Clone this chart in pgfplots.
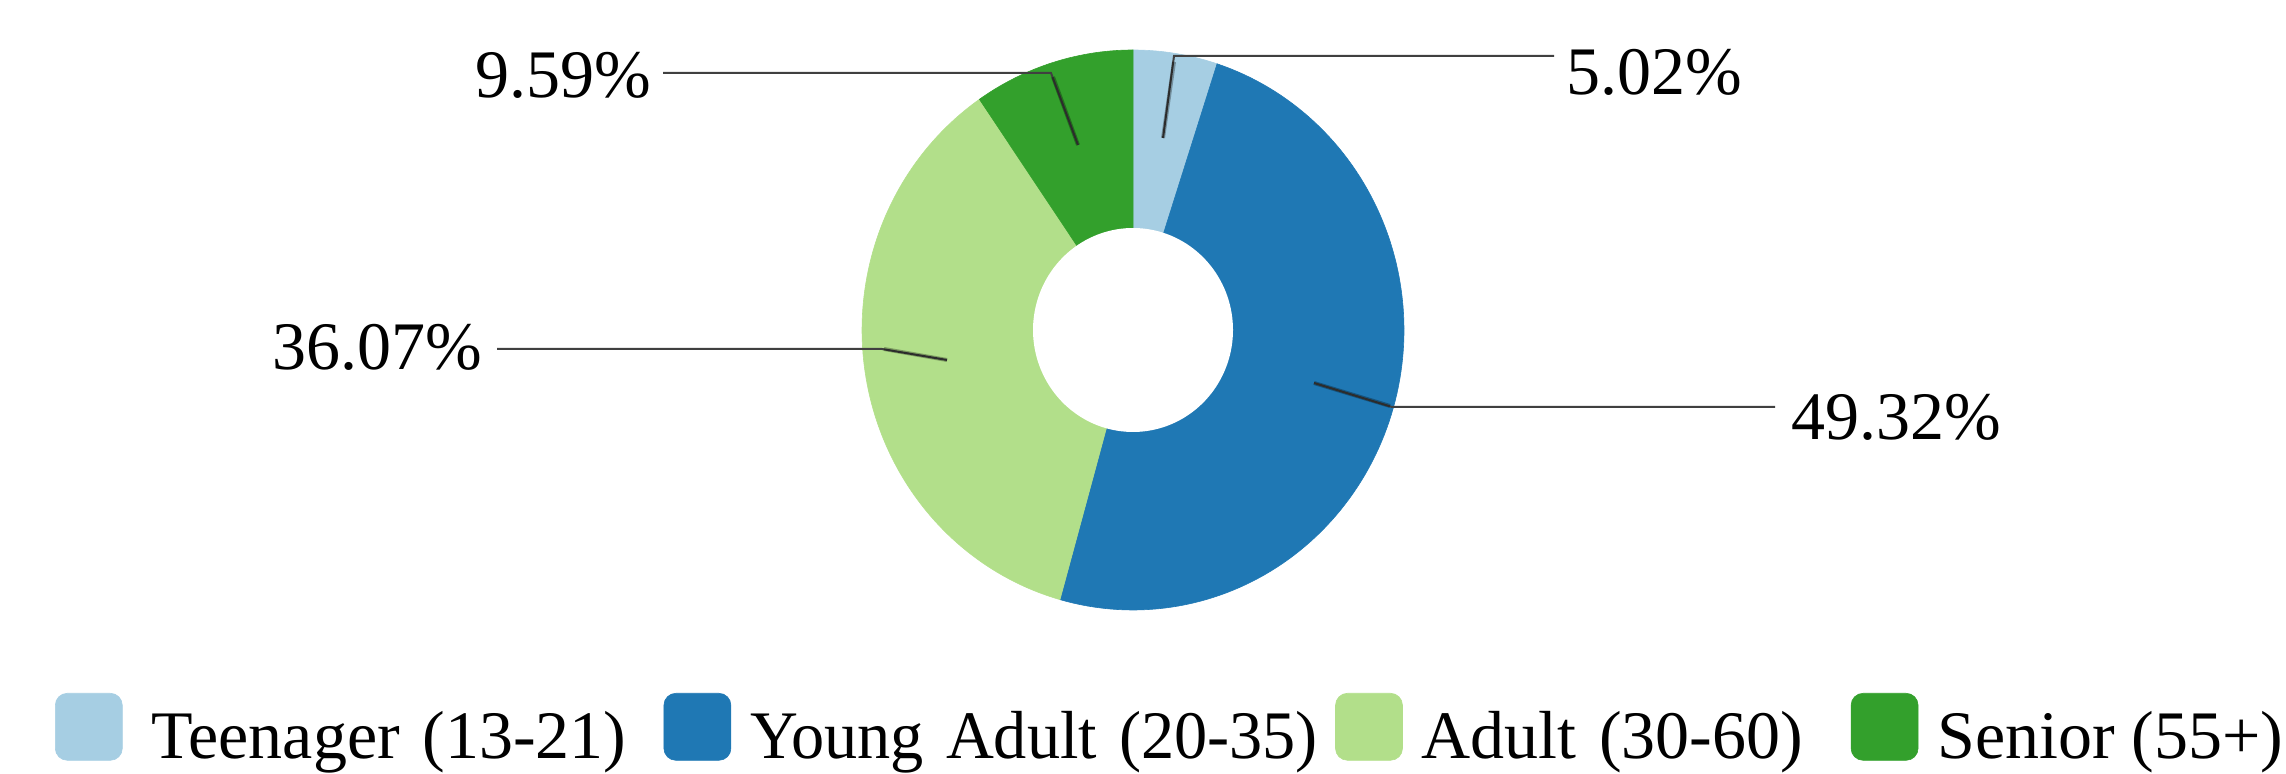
\documentclass[border=0pt]{standalone}
\usepackage{fontspec}
\setmainfont{Liberation Serif}
\usepackage{pgfplots}
\pgfplotsset{compat=1.18}
\definecolor{teen}{HTML}{A6CEE3}
\definecolor{young}{HTML}{1F78B4}
\definecolor{adult}{HTML}{B2DF8A}
\definecolor{senior}{HTML}{33A02C}
% shares (percent)
\def\pA{5.02}
\def\pB{49.32}
\def\pC{36.07}
\def\pD{9.59}
% geometry (1 unit = 1 px of the reference)
\def\cx{1133}
\def\cy{444}
\def\Rx{271}
\def\Ry{280}
\def\rx{100}
\def\ry{102}
\pgfmathsetmacro\aO{90}
\pgfmathsetmacro\aA{90-3.6*\pA}
\pgfmathsetmacro\aB{\aA-3.6*\pB}
\pgfmathsetmacro\aC{\aB-3.6*\pC}
\pgfmathsetmacro\aD{\aC-3.6*\pD}
\begin{document}
\begin{tikzpicture}[font=\fontsize{34}{40}\selectfont]
\begin{axis}[
  width=1143pt, height=387pt, scale only axis,
  xmin=0, xmax=2286, ymin=0, ymax=774,
  enlargelimits=false, hide axis, clip=false,
  legend columns=-1,
  legend cell align=left,
  legend style={draw=none, fill=none, inner sep=0pt, outer sep=0pt,
    at={(axis cs:55,81)}, anchor=north west,
    font=\fontsize{34}{40}\selectfont,
    /tikz/column sep=0pt,
    nodes={inner sep=0pt, outer sep=0pt, anchor=base},
    cells={anchor=base}},
  legend image code/.code={%
    \fill[#1, rounded corners=6pt] (0pt,-1pt) rectangle (33.5pt,32.5pt);
    \path (43pt,0pt);},
]
\addplot[fill=teen, draw=teen, line width=0.3pt, no markers, domain=\aA:\aO, samples=40, variable=\t]
  ({\cx+\Rx*cos(\t)},{\cy+\Ry*sin(\t)}) -- (axis cs:\cx,\cy) -- cycle;
\addlegendentry[text width=261pt, align=left]{\hspace*{5pt}Teenager (13-21)}
\addplot[fill=young, draw=young, line width=0.3pt, no markers, domain=\aB:\aA, samples=120, variable=\t]
  ({\cx+\Rx*cos(\t)},{\cy+\Ry*sin(\t)}) -- (axis cs:\cx,\cy) -- cycle;
\addlegendentry[text width=292.5pt, align=left]{\scalebox{0.975}[1]{Young Adult (20-35)}}
\addplot[fill=adult, draw=adult, line width=0.3pt, no markers, domain=\aC:\aB, samples=100, variable=\t]
  ({\cx+\Rx*cos(\t)},{\cy+\Ry*sin(\t)}) -- (axis cs:\cx,\cy) -- cycle;
\addlegendentry[text width=214.5pt, align=left]{Adult (30-60)}
\addplot[fill=senior, draw=senior, line width=0.3pt, no markers, domain=\aD:\aC, samples=40, variable=\t]
  ({\cx+\Rx*cos(\t)},{\cy+\Ry*sin(\t)}) -- (axis cs:\cx,\cy) -- cycle;
\addlegendentry{Senior (55+)}
% hole
\addplot[fill=white, draw=none, no markers, forget plot, domain=0:360, samples=150, variable=\t]
  ({\cx+\rx*cos(\t)},{\cy+\ry*sin(\t)}) -- cycle;
% leader lines
\addplot[black!75, line width=1pt, no markers, forget plot] coordinates {(1163,636) (1174,718) (1554,718)};
\addplot[black, opacity=0.3, line width=2pt, no markers, forget plot] coordinates {(1163,636) (1174,712)};
\addplot[black!75, line width=1pt, no markers, forget plot] coordinates {(1078,629) (1051,701) (663,701)};
\addplot[black, opacity=0.3, line width=2pt, no markers, forget plot] coordinates {(1078,629) (1053,697)};
\addplot[black!75, line width=1pt, no markers, forget plot] coordinates {(947,414) (882,425) (497,425)};
\addplot[black, opacity=0.3, line width=2pt, no markers, forget plot] coordinates {(947,414) (884,425)};
\addplot[black!75, line width=1pt, no markers, forget plot] coordinates {(1314,391) (1392,367) (1775,367)};
\addplot[black, opacity=0.3, line width=2pt, no markers, forget plot] coordinates {(1314,391) (1390,368)};
% labels
\node[anchor=base west, inner sep=0pt] at (axis cs:1566,679) {5.02\%};
\node[anchor=base east, inner sep=0pt] at (axis cs:652,676) {9.59\%};
\node[anchor=base east, inner sep=0pt] at (axis cs:483,404) {36.07\%};
\node[anchor=base west, inner sep=0pt] at (axis cs:1791,334) {49.32\%};
\end{axis}
\pgfresetboundingbox
\useasboundingbox (0,0) rectangle (1143pt,387pt);
\end{tikzpicture}
\end{document}
